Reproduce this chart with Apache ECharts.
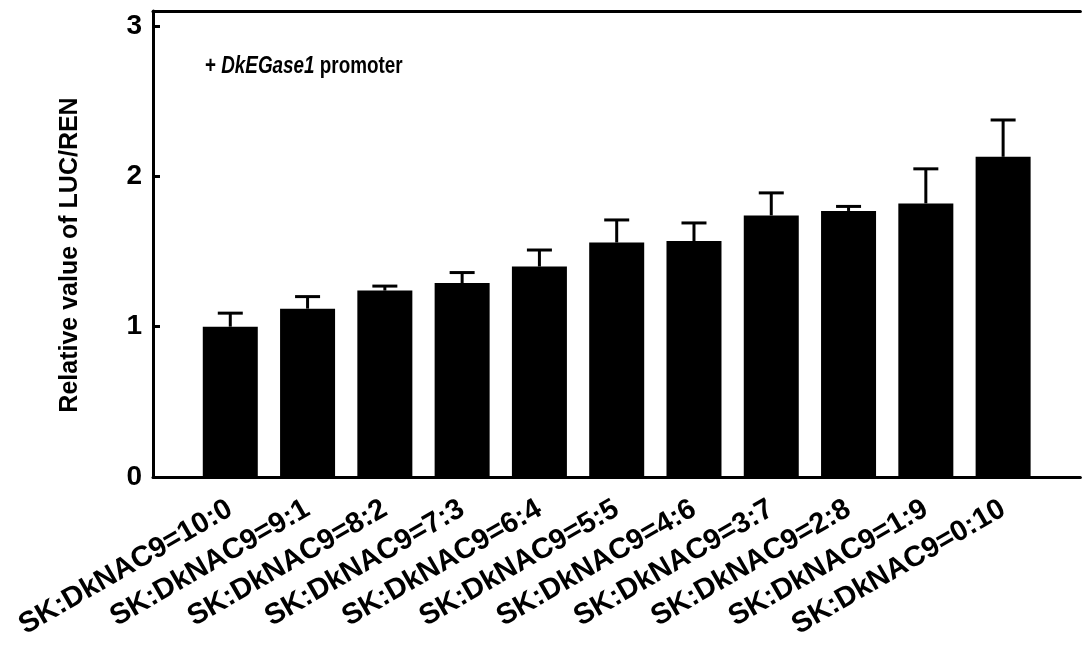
<!DOCTYPE html>
<html>
<head>
<meta charset="utf-8">
<script src="https://cdn.jsdelivr.net/npm/echarts@6/dist/echarts.min.js"></script>
<style>html,body{margin:0;padding:0;background:#fff;}#c{width:1083px;height:646px;}</style>
</head>
<body>
<div id="c"></div>
<script>
const categories = ['SK:DkNAC9=10:0','SK:DkNAC9=9:1','SK:DkNAC9=8:2','SK:DkNAC9=7:3','SK:DkNAC9=6:4','SK:DkNAC9=5:5','SK:DkNAC9=4:6','SK:DkNAC9=3:7','SK:DkNAC9=2:8','SK:DkNAC9=1:9','SK:DkNAC9=0:10'];
const means = [1.00, 1.12, 1.24, 1.29, 1.40, 1.56, 1.57, 1.74, 1.77, 1.82, 2.13];
const errors = [0.09, 0.08, 0.03, 0.07, 0.11, 0.15, 0.12, 0.15, 0.03, 0.23, 0.245];
const yTicks = [0, 1, 2, 3];
const yTitle = 'Relative value of LUC/REN';

const FONT = "'Liberation Sans', Arial, sans-serif";
const barData = means.map((v, i) => [i + 1, v]);
const errData = means.map((v, i) => [i + 1, v, v + errors[i]]);

const chart = echarts.init(document.getElementById('c'));
chart.setOption({
  animation: false,
  backgroundColor: '#fff',
  grid: { left: 153, right: -4, top: 11, bottom: 169 },
  xAxis: [{
    type: 'value', min: 0, max: 12, interval: 1,
    axisLine: { show: true, lineStyle: { color: '#000', width: 3 } },
    axisTick: { show: false },
    splitLine: { show: false },
    axisLabel: {
      rotate: 30, margin: 30, color: '#000', fontWeight: 'bold', fontSize: 29, fontFamily: FONT,
      formatter: v => categories[v - 1] || ''
    }
  }, {
    type: 'value', min: 0, max: 12, position: 'top',
    axisLine: { show: true, lineStyle: { color: '#000', width: 3 } },
    axisTick: { show: false }, axisLabel: { show: false }, splitLine: { show: false }
  }],
  yAxis: {
    type: 'value', min: 0, max: 3.1, interval: 1,
    name: yTitle, nameLocation: 'middle', nameGap: 70,
    nameTextStyle: { color: '#000', fontWeight: 'bold', fontSize: 25, fontFamily: FONT, padding: [0, 22, 0, 0] },
    axisLine: { show: true, lineStyle: { color: '#000', width: 3 } },
    axisTick: { show: true, inside: true, length: 7, lineStyle: { color: '#000', width: 3 } },
    splitLine: { show: false },
    axisLabel: {
      margin: 11, color: '#000', fontWeight: 'bold', fontSize: 28, fontFamily: FONT,
      formatter: v => (yTicks.indexOf(v) >= 0 ? String(v) : '')
    }
  },
  graphic: [{
    type: 'text', x: 205, y: 55, scaleX: 0.82,
    style: {
      text: '+ {i|DkEGase1} promoter',
      fill: '#000', font: "bold 23px " + FONT,
      rich: { i: { fontStyle: 'italic', fontWeight: 'bold', fontSize: 23, fontFamily: FONT, fill: '#000' } }
    }
  }],
  series: [{
    type: 'bar', data: barData, barWidth: 55,
    itemStyle: { color: '#000' }, z: 2
  }, {
    type: 'custom', data: errData, z: 1,
    renderItem: (params, api) => {
      const x = api.value(0);
      const p0 = api.coord([x, api.value(1)]);
      const p1 = api.coord([x, api.value(2)]);
      const hw = 12.5;
      return {
        type: 'group',
        children: [
          { type: 'line', shape: { x1: p0[0], y1: p0[1], x2: p1[0], y2: p1[1] }, style: { stroke: '#000', lineWidth: 3 } },
          { type: 'line', shape: { x1: p1[0] - hw, y1: p1[1], x2: p1[0] + hw, y2: p1[1] }, style: { stroke: '#000', lineWidth: 3 } }
        ]
      };
    }
  }]
});
</script>
</body>
</html>
